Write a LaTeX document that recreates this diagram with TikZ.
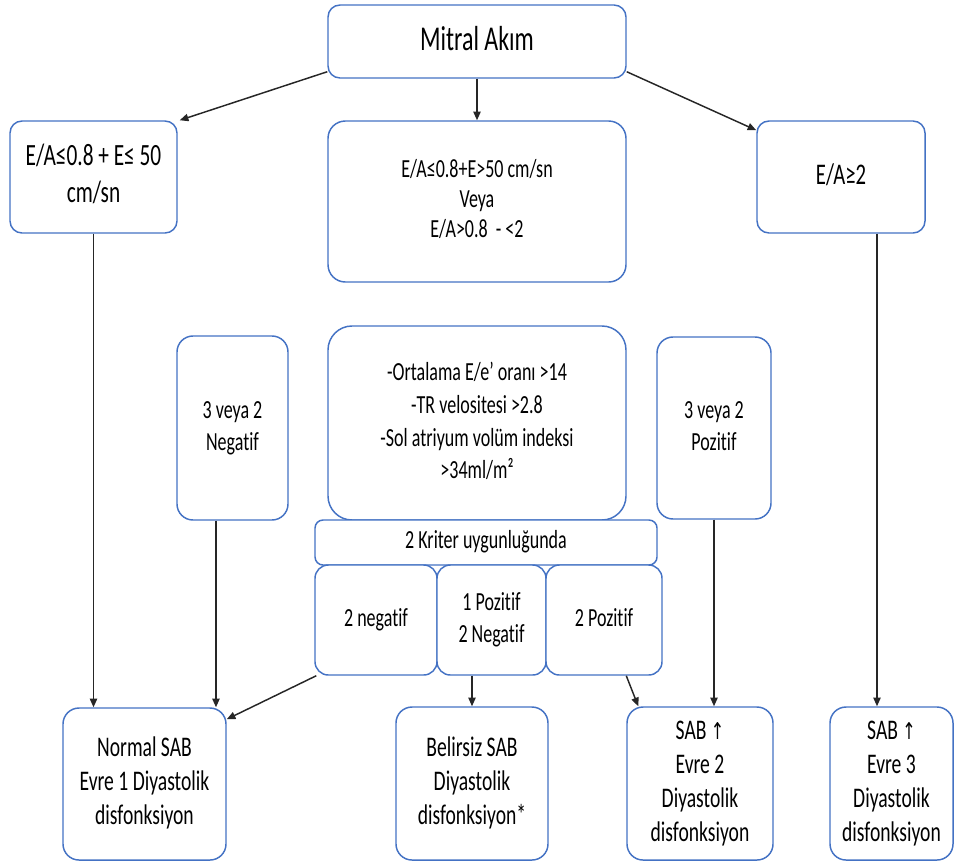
\documentclass[tikz,border=0pt]{standalone}
\usepackage{fontspec}
\setmainfont[Ligatures=NoCommon]{Carlito}
\newfontfamily\symf{DejaVu Sans}
\usepackage{graphicx}
\usetikzlibrary{arrows.meta}
\definecolor{boxblue}{HTML}{4472C4}
\newcommand\stx[3]{\scalebox{1}[1.45]{\fontsize{#1}{#2}\selectfont\begin{tabular}{@{}c@{}}#3\end{tabular}}}
\newcommand\bx[7][]{\node[box,#1,minimum width={(#4-#2)*0.75pt},minimum height={(#5-#3)*0.75pt}] (#7) at ({(#2+#4)/2},{(#3+#5)/2}) {#6};}
\begin{document}
\begin{tikzpicture}[x=0.75pt,y=-0.75pt,
  box/.style={draw=boxblue,line width=1.1pt,rounded corners=9pt,fill=white,inner sep=0pt,align=center,text=black},
  arr/.style={-{Triangle[length=6.5pt,width=5.5pt]},line width=1.1pt,draw=black!85}]
\useasboundingbox (0,0) rectangle (955,864);
\bx{328}{5}{626}{78}{\stx{18pt}{22pt}{Mitral Akım}}{mitral}
\bx{10}{121}{177}{233}{\stx{16pt}{19pt}{E/A≤0.8 + E≤ 50\\cm/sn}}{lbox}
\bx[rounded corners=13pt]{328}{121}{626}{282}{\stx{13.5pt}{15.5pt}{E/A≤0.8+E>50 cm/sn\\Veya\\E/A>0.8\ \ - <2}}{cbox}
\bx{757}{121}{925}{233}{\stx{15.5pt}{19pt}{E/A≥2}}{rbox}
\bx[rounded corners=12pt]{177}{336}{288}{520}{\stx{13.5pt}{16.5pt}{3 veya 2\\Negatif}}{neg}
\bx[rounded corners=18pt]{328}{326}{626}{520}{\stx{13.5pt}{17pt}{-Ortalama E/e’ oranı >14\\-TR velositesi >2.8\\-Sol atriyum volüm indeksi\\>34ml/m²}}{crit}
\bx[rounded corners=12pt]{657}{337}{771}{519}{\stx{13.5pt}{16.5pt}{3 veya 2\\Pozitif}}{poz}
\bx[rounded corners=6pt]{315}{520}{657}{565}{\stx{13.5pt}{16pt}{2 Kriter uygunluğunda}}{bar}
\bx[rounded corners=10pt]{315}{565}{437}{675}{\stx{13.5pt}{16.4pt}{2 negatif}}{n2}
\bx[rounded corners=10pt]{437}{565}{546}{675}{\stx{13.5pt}{16.4pt}{1 Pozitif\\2 Negatif}}{p1}
\bx[rounded corners=10pt]{546}{565}{662}{675}{\stx{13.5pt}{16.4pt}{2 Pozitif}}{p2}
\bx[rounded corners=12pt]{63}{708}{226}{860}{\stx{14.7pt}{17.6pt}{Normal SAB\\Evre 1 Diyastolik\\disfonksiyon}}{normal}
\bx[rounded corners=12pt]{396}{707}{548}{860}{\stx{14.7pt}{17.6pt}{Belirsiz SAB\\Diyastolik\\disfonksiyon*}}{bel}
\bx[rounded corners=12pt]{627}{707}{773}{860}{\stx{14.7pt}{17.6pt}{SAB {\symf\fontsize{12pt}{14pt}\selectfont ↑}\\Evre 2\\Diyastolik\\disfonksiyon}}{sab2}
\bx[rounded corners=12pt]{830}{707}{953}{860}{\stx{14.7pt}{17.6pt}{SAB {\symf\fontsize{12pt}{14pt}\selectfont ↑}\\Evre 3\\Diyastolik\\disfonksiyon}}{sab3}
\draw[arr] ([yshift=5.25pt]mitral.south west) -- ([xshift=1.5pt]lbox.north east);
\draw[arr] (mitral.south) -- (cbox.north);
\draw[arr] ([yshift=5.25pt]mitral.south east) -- ([yshift=-7.5pt]rbox.north west);
\draw[arr] (lbox.south) -- (lbox.south |- normal.north);
\draw[arr] ([xshift=-12.4pt]neg.south) -- ([xshift=-12.4pt]neg.south |- normal.north);
\draw[arr] ([xshift=1.5pt]n2.south west) -- ([yshift=-9pt]normal.north east);
\draw[arr] (bel.north |- p1.south) -- (bel.north);
\draw[arr] (sab2.north west |- p2.south) -- ([xshift=9pt]sab2.north west);
\draw[arr] (poz.south) -- (poz.south |- sab2.north);
\draw[arr] ([xshift=27pt]rbox.south) -- ([xshift=27pt]rbox.south |- sab3.north);
\end{tikzpicture}
\end{document}
